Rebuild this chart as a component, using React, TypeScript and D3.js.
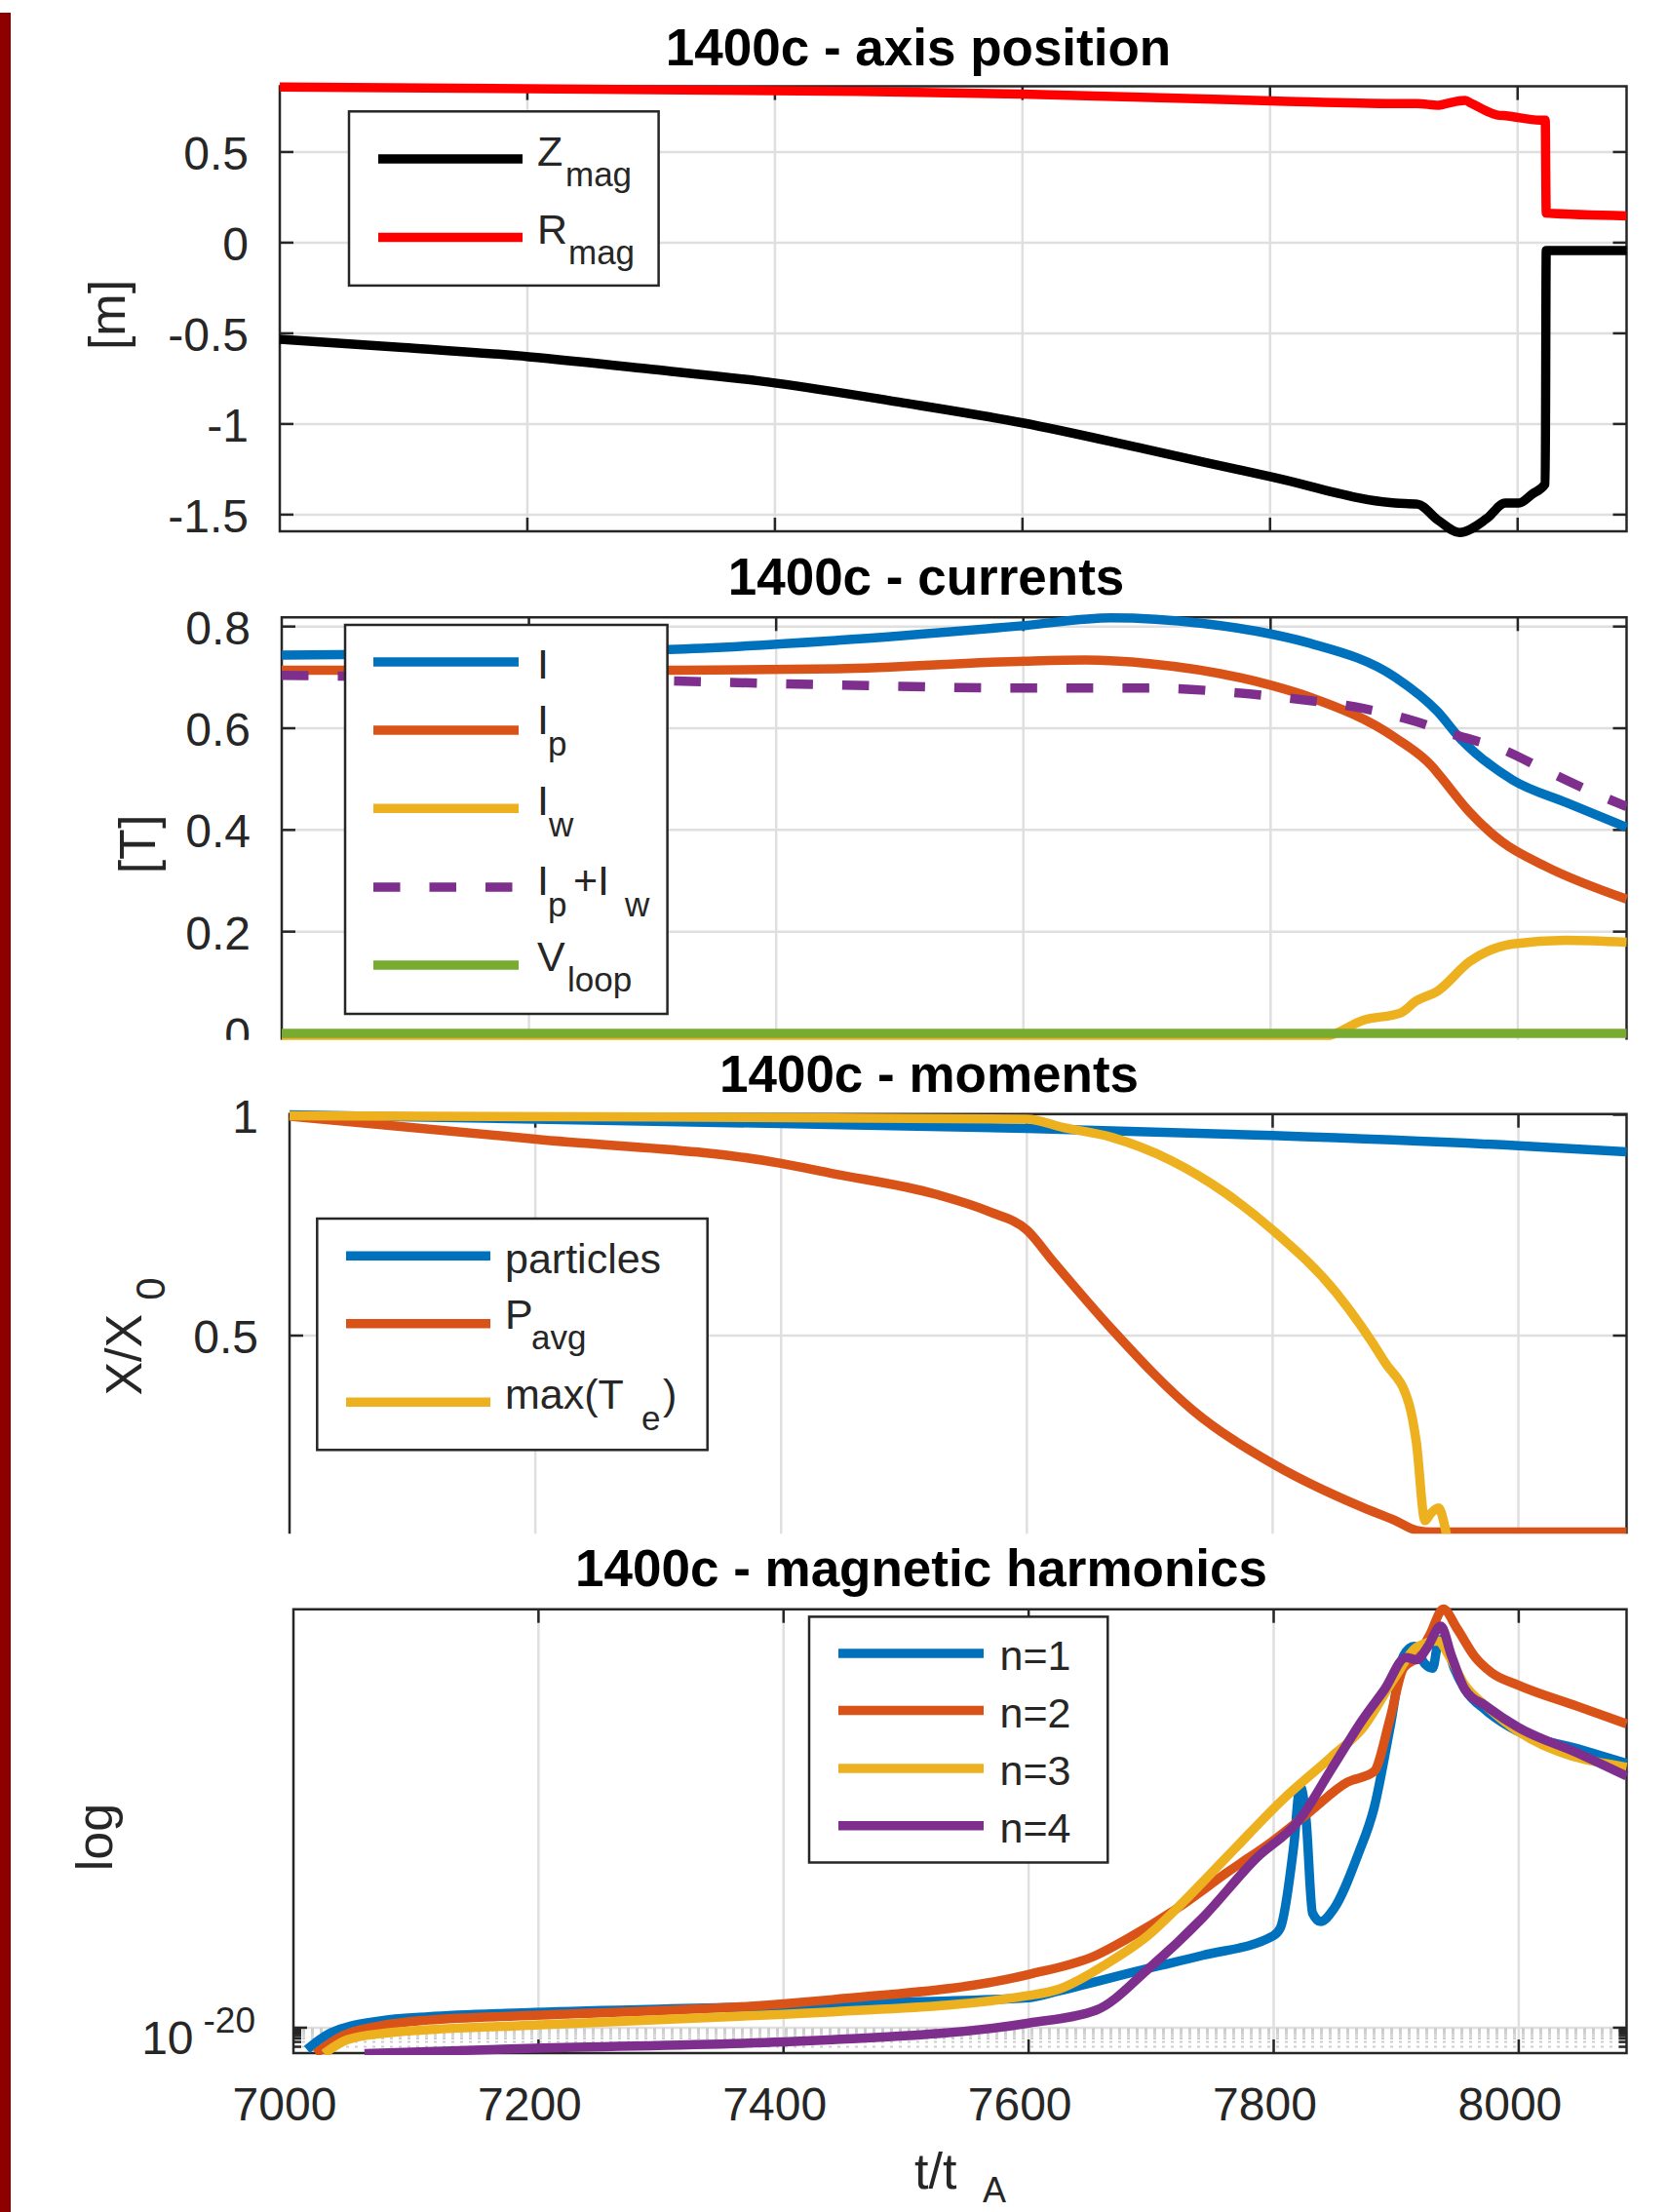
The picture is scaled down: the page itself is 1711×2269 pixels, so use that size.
import React from 'react'
import * as d3 from 'd3'

type Pt = [number, number]

const W = 1711
const H = 2269
const FONT = '"Liberation Sans", Arial, Helvetica, sans-serif'
const INK = '#262626'
const GRID = '#dfdfdf'
const LW = 9.5

const BLUE = '#0072bd'
const ORANGE = '#d95319'
const YELLOW = '#edb120'
const PURPLE = '#7e2f8e'
const GREEN = '#77ac30'

const T_DOMAIN: [number, number] = [7000, 8088]
const T_TICKS = [7000, 7200, 7400, 7600, 7800, 8000]
const RIGHT = 1668.5

// axis position [m]
const zMag: Pt[] = [
  [7000, -0.533], [7100, -0.578], [7201, -0.629], [7300, -0.698], [7400, -0.774],
  [7500, -0.879], [7600, -0.994], [7700, -1.14], [7801, -1.292], [7901, -1.436], [7919, -1.442],
  [7936, -1.532], [7953, -1.599], [7975, -1.522], [7990, -1.436], [8001, -1.436], [8011.5, -1.388],
  [8022.3, -1.33], [8023.1, -0.044], [8088, -0.044],
]
const rMag: Pt[] = [
  [7000, 0.859], [7443, 0.836], [7600, 0.82], [7801, 0.782], [7901, 0.767], [7919, 0.767],
  [7936, 0.758], [7942, 0.766], [7957.5, 0.784], [7963, 0.767], [7983, 0.705], [7992, 0.699],
  [8018, 0.676], [8022.3, 0.676], [8023.1, 0.163], [8088, 0.148],
]
const axisTicks = [-1.5, -1, -0.5, 0, 0.5]
const axisLabels = ['-1.5', '-1', '-0.5', '0', '0.5']

// currents [T]
const iTot: Pt[] = [
  [7000, 0.744], [7313, 0.755], [7450, 0.773], [7601, 0.802], [7671, 0.817], [7745, 0.806],
  [7801, 0.785], [7832, 0.767], [7901, 0.7], [7935, 0.633], [7953, 0.581], [7996, 0.498],
  [8039, 0.454], [8088, 0.405],
]
const iP: Pt[] = [
  [7000, 0.714], [7313, 0.714], [7450, 0.717], [7601, 0.732], [7650, 0.734], [7702, 0.727],
  [7801, 0.684], [7832, 0.661], [7901, 0.581], [7931, 0.524], [7937.5, 0.505], [7961, 0.435],
  [7987, 0.377], [8022, 0.329], [8088, 0.264],
]
const iW: Pt[] = [
  [7000, -0.005], [7700, -0.006], [7760, -0.009], [7832, -0.009], [7848, -0.004], [7875, 0.026],
  [7905, 0.04], [7918, 0.064], [7935, 0.083], [7961, 0.141], [7996, 0.176], [8039, 0.183], [8088, 0.179],
]
const iPW: Pt[] = [
  [7000, 0.704], [7313, 0.693], [7450, 0.685], [7601, 0.679], [7702, 0.679], [7771, 0.67],
  [7819, 0.658], [7875, 0.639], [7918, 0.613], [7948, 0.588], [7987, 0.559], [8022, 0.518],
  [8056, 0.479], [8088, 0.446],
]
const vLoop: Pt[] = [[7000, 0], [7500, 0], [8088, 0]]
const curTicks = [0, 0.2, 0.4, 0.6, 0.8]
const curLabels = ['0', '0.2', '0.4', '0.6', '0.8']

// moments X/X0
const particles: Pt[] = [
  [7000, 1.0], [7200, 0.99], [7400, 0.98], [7600, 0.969], [7800, 0.953], [8000, 0.93], [8088, 0.916],
]
const pAvg: Pt[] = [
  [7000, 0.997], [7200, 0.945], [7400, 0.89], [7440, 0.868], [7526, 0.82], [7570, 0.78],
  [7600, 0.739], [7621, 0.669], [7669, 0.515], [7735, 0.331], [7800, 0.21], [7874, 0.11],
  [7900, 0.081], [7917, 0.059], [7930, 0.055], [8088, 0.055],
]
const maxTe: Pt[] = [
  [7000, 0.998], [7300, 0.995], [7600, 0.99], [7630, 0.971], [7669, 0.949], [7717, 0.897],
  [7761, 0.824], [7800, 0.739], [7852, 0.596], [7891, 0.441], [7911, 0.345], [7917, 0.257],
  [7924, 0.081], [7928, 0.095], [7935, 0.11], [7939, 0.081], [7942, 0.04], [7944, 0.0],
]
const momTicks = [0.5, 1]
const momLabels = ['0.5', '1']

// magnetic harmonics, log10 of amplitude
const n1: Pt[] = [
  [7011, -20.8], [7030, -20.2], [7071, -19.75], [7110, -19.6], [7197, -19.44], [7400, -19.2],
  [7440, -19.13], [7600, -18.9], [7624, -18.66], [7699, -17.81], [7742, -17.35], [7799, -16.65],
  [7805.5, -16.34], [7816.4, -13.33], [7821.6, -11.16], [7826.5, -12.4], [7831.7, -15.8],
  [7838.2, -16.11], [7849, -15.65], [7869, -13.64], [7882, -11.94], [7895, -9.0], [7906, -6.37],
  [7914.6, -6.03], [7923.3, -6.67], [7929.8, -6.83], [7934.2, -5.9], [7938.5, -5.75],
  [7947.3, -6.83], [7956, -7.6], [7973.4, -8.38], [7999.6, -9.15], [8047.6, -9.77], [8088, -10.32],
]
const n2: Pt[] = [
  [7018, -20.95], [7040, -20.3], [7071, -19.93], [7110, -19.72], [7197, -19.55], [7400, -19.13],
  [7440, -18.97], [7600, -18.05], [7655, -17.35], [7681, -16.73], [7720.5, -15.65], [7764, -14.25],
  [7799, -13.17], [7829.5, -12.09], [7860, -11.01], [7881.8, -10.62], [7894.9, -8.69],
  [7905.8, -6.83], [7916.7, -6.44], [7927.6, -5.59], [7938.5, -4.66], [7949.4, -5.36],
  [7964.7, -6.44], [7977.8, -6.99], [7999.6, -7.45], [8047.6, -8.22], [8088, -8.87],
]
const n3: Pt[] = [
  [7025, -20.95], [7044, -20.44], [7075, -20.2], [7197, -19.9], [7400, -19.51], [7440, -19.42],
  [7600, -18.82], [7624.5, -18.59], [7663.7, -17.66], [7698.6, -16.58], [7720.5, -15.65],
  [7764, -13.64], [7807.7, -11.63], [7847, -10.08], [7873, -9.0], [7899.3, -7.14], [7916.7, -6.06],
  [7934.2, -5.83], [7942.9, -6.37], [7956, -7.45], [7973.4, -8.22], [7999.6, -9.15], [8088, -10.46],
]
const n4: Pt[] = [
  [7058, -20.95], [7197, -20.75], [7400, -20.52], [7440, -20.44], [7600, -19.83], [7655, -19.36],
  [7698.6, -17.81], [7742.3, -15.96], [7785.8, -13.79], [7820.7, -12.4], [7847, -10.54],
  [7873, -8.69], [7890.6, -7.6], [7908, -6.44], [7916.7, -6.52], [7925.5, -6.06], [7936.4, -5.29],
  [7945.1, -6.37], [7956, -7.6], [7973.4, -8.22], [7999.6, -9.0], [8047.6, -9.93], [8088, -10.78],
]
const harmTicks = [1e-20]
const harmMinor = [2e-21, 3e-21, 4e-21, 5e-21, 6e-21, 7e-21, 8e-21, 9e-21]

type AxesProps = {
  x: d3.ScaleLinear<number, number>
  y: (v: number) => number
  top: number
  bottom: number
  yTicks: number[]
  yMinor?: number[]
  bottomAxis?: boolean
}

function Axes({ x, y, top, bottom, yTicks, yMinor = [], bottomAxis = true }: AxesProps) {
  const [left, right] = x.range()
  const TL = 14
  const gx = T_TICKS.filter(t => t > T_DOMAIN[0])
  const frame = bottomAxis
    ? `M${left},${bottom}V${top}H${right}V${bottom}Z`
    : `M${left},${bottom}V${top}H${right}V${bottom}`
  return (
    <g>
      {gx.map(t => (
        <line key={`gx${t}`} x1={x(t)} x2={x(t)} y1={top} y2={bottom} stroke={GRID} strokeWidth={2.5} />
      ))}
      {yTicks.map(v => (
        <line key={`gy${v}`} x1={left} x2={right} y1={y(v)} y2={y(v)} stroke={GRID} strokeWidth={2.5} />
      ))}
      {yMinor.map(v => (
        <line key={`gm${v}`} x1={left} x2={right} y1={y(v)} y2={y(v)} stroke="#cdcdcd" strokeWidth={2} strokeDasharray="3 6" />
      ))}
      <g stroke={INK} strokeWidth={2.5} fill="none">
        <path d={frame} />
        {gx.map(t => <line key={`tt${t}`} x1={x(t)} x2={x(t)} y1={top} y2={top + TL} />)}
        {bottomAxis && gx.map(t => <line key={`tb${t}`} x1={x(t)} x2={x(t)} y1={bottom} y2={bottom - TL} />)}
        {yTicks.map(v => <line key={`tl${v}`} x1={left} x2={left + TL} y1={y(v)} y2={y(v)} />)}
        {yTicks.map(v => <line key={`tr${v}`} x1={right} x2={right - TL} y1={y(v)} y2={y(v)} />)}
        {yMinor.map(v => <line key={`ml${v}`} x1={left} x2={left + 8} y1={y(v)} y2={y(v)} />)}
        {yMinor.map(v => <line key={`mr${v}`} x1={right} x2={right - 8} y1={y(v)} y2={y(v)} />)}
      </g>
    </g>
  )
}

function YLabels({ x, y, ticks, labels }: { x: d3.ScaleLinear<number, number>; y: (v: number) => number; ticks: number[]; labels: string[] }) {
  const left = x.range()[0]
  return (
    <g fontSize={48} fill={INK} textAnchor="end">
      {ticks.map((v, i) => (
        <text key={v} x={left - 32} y={y(v) + 18}>{labels[i]}</text>
      ))}
    </g>
  )
}

function Series({ data, x, y, color, dash }: { data: Pt[]; x: (v: number) => number; y: (v: number) => number; color: string; dash?: string }) {
  const gen = d3.line<Pt>().x(d => x(d[0])).y(d => y(d[1])).curve(d3.curveMonotoneX)
  return (
    <path d={gen(data) || ''} fill="none" stroke={color} strokeWidth={LW} strokeLinejoin="round" strokeDasharray={dash} />
  )
}

function LegendLine({ x1, x2, y, color, dash }: { x1: number; x2: number; y: number; color: string; dash?: string }) {
  return <line x1={x1} x2={x2} y1={y} y2={y} stroke={color} strokeWidth={LW} strokeDasharray={dash} />
}

const DASH = '27.5 30'

export default function App() {
  // panel scales
  const x1 = d3.scaleLinear().domain(T_DOMAIN).range([287, RIGHT])
  const y1 = d3.scaleLinear().domain([-1.592, 0.862]).range([545, 88.6])
  const x2 = d3.scaleLinear().domain(T_DOMAIN).range([289, RIGHT])
  const y2 = d3.scaleLinear().domain([-0.0125, 0.818]).range([1066.5, 633.3])
  const x3 = d3.scaleLinear().domain(T_DOMAIN).range([297, RIGHT])
  const y3 = d3.scaleLinear().domain([0.0512, 1.0018]).range([1573.3, 1142.7])
  const x4 = d3.scaleLinear().domain(T_DOMAIN).range([301, RIGHT])
  const y4 = d3.scaleLog().domain([10 ** -20.93, 10 ** -4.67]).range([2106, 1650.7])
  const y4e = (e: number) => y4(10 ** e)

  return (
    <div style={{ position: 'absolute', left: 0, top: 0, width: W, height: H, background: '#fff' }}>
      <svg width={W} height={H} viewBox={`0 0 ${W} ${H}`} style={{ display: 'block', fontFamily: FONT }}>
        <defs>
          <clipPath id="clip2"><rect x={0} y={0} width={W} height={1066.7} /></clipPath>
          <clipPath id="clip3"><rect x={0} y={1100} width={W} height={473.3} /></clipPath>
          <clipPath id="clip4"><rect x={0} y={1600} width={W} height={508} /></clipPath>
        </defs>
        <rect x={0} y={0} width={W} height={H} fill="#fff" />
        <rect x={0} y={13} width={11} height={H - 13} fill="#8e0000" />

        {/* panel 1: axis position */}
        <text x={942} y={67} textAnchor="middle" fontSize={53} fontWeight="bold" fill="#000">1400c - axis position</text>
        <Axes x={x1} y={y1} top={88.6} bottom={545} yTicks={axisTicks} />
        <YLabels x={x1} y={y1} ticks={axisTicks} labels={axisLabels} />
        <text transform="translate(128,323) rotate(-90)" textAnchor="middle" fontSize={52} fill={INK}>[m]</text>
        <Series data={zMag} x={x1} y={y1} color="#000000" />
        <Series data={rMag} x={x1} y={y1} color="#ff0000" />
        <rect x={358} y={114.3} width={317.6} height={178.6} fill="#fff" stroke={INK} strokeWidth={2.5} />
        <LegendLine x1={388} x2={536} y={163} color="#000000" />
        <LegendLine x1={388} x2={536} y={243.6} color="#ff0000" />
        <g fontSize={43} fill={INK}>
          <text x={551} y={170}>Z<tspan x={580} y={191} fontSize={35}>mag</tspan></text>
          <text x={551} y={250}>R<tspan x={583} y={271} fontSize={35}>mag</tspan></text>
        </g>

        {/* panel 2: currents */}
        <text x={950} y={610} textAnchor="middle" fontSize={53} fontWeight="bold" fill="#000">1400c - currents</text>
        <g clipPath="url(#clip2)">
          <Axes x={x2} y={y2} top={633.3} bottom={1066.7} yTicks={curTicks} bottomAxis={false} />
          <YLabels x={x2} y={y2} ticks={curTicks} labels={curLabels} />
          <Series data={iTot} x={x2} y={y2} color={BLUE} />
          <Series data={iP} x={x2} y={y2} color={ORANGE} />
          <Series data={iW} x={x2} y={y2} color={YELLOW} />
          <Series data={iPW} x={x2} y={y2} color={PURPLE} dash={DASH} />
          <Series data={vLoop} x={x2} y={y2} color={GREEN} />
        </g>
        <text transform="translate(159,866) rotate(-90)" textAnchor="middle" fontSize={52} fill={INK}>[T]</text>
        <rect x={354} y={641} width={330.6} height={399} fill="#fff" stroke={INK} strokeWidth={2.5} />
        <LegendLine x1={383} x2={532} y={679} color={BLUE} />
        <LegendLine x1={383} x2={532} y={749} color={ORANGE} />
        <LegendLine x1={383} x2={532} y={829.3} color={YELLOW} />
        <LegendLine x1={383} x2={532} y={910} color={PURPLE} dash={DASH} />
        <LegendLine x1={383} x2={532} y={990} color={GREEN} />
        <g fontSize={43} fill={INK}>
          <text x={551} y={696}>I</text>
          <text x={551} y={753}>I<tspan x={562} y={775} fontSize={35}>p</tspan></text>
          <text x={551} y={836}>I<tspan x={563} y={858} fontSize={35}>w</tspan></text>
          <text x={551} y={918}>I<tspan x={562} y={940} fontSize={35}>p</tspan><tspan x={588} y={918}>+I</tspan><tspan x={641} y={940} fontSize={35}>w</tspan></text>
          <text x={551} y={996}>V<tspan x={582} y={1017} fontSize={35}>loop</tspan></text>
        </g>

        {/* panel 3: moments */}
        <text x={953} y={1120} textAnchor="middle" fontSize={53} fontWeight="bold" fill="#000">1400c - moments</text>
        <Axes x={x3} y={y3} top={1142.7} bottom={1573.3} yTicks={momTicks} bottomAxis={false} />
        <YLabels x={x3} y={y3} ticks={momTicks} labels={momLabels} />
        <text transform="translate(145,1371) rotate(-90)" textAnchor="middle" fontSize={52} fill={INK}>
          X/X<tspan dx={14} dy={24} fontSize={42}>0</tspan>
        </text>
        <g clipPath="url(#clip3)">
          <Series data={particles} x={x3} y={y3} color={BLUE} />
          <Series data={pAvg} x={x3} y={y3} color={ORANGE} />
          <Series data={maxTe} x={x3} y={y3} color={YELLOW} />
        </g>
        <rect x={325.3} y={1250} width={400.4} height={237.3} fill="#fff" stroke={INK} strokeWidth={2.5} />
        <LegendLine x1={355} x2={503} y={1288.3} color={BLUE} />
        <LegendLine x1={355} x2={503} y={1357.7} color={ORANGE} />
        <LegendLine x1={355} x2={503} y={1438.3} color={YELLOW} />
        <g fontSize={43} fill={INK}>
          <text x={518} y={1306}>particles</text>
          <text x={518} y={1362.7}>P<tspan x={545} y={1384.3} fontSize={35}>avg</tspan></text>
          <text x={518} y={1445}>max(T<tspan x={658} y={1466.7} fontSize={35}>e</tspan><tspan x={680} y={1445}>)</tspan></text>
        </g>

        {/* panel 4: magnetic harmonics */}
        <text x={945} y={1627} textAnchor="middle" fontSize={53} fontWeight="bold" fill="#000">1400c - magnetic harmonics</text>
        <Axes x={x4} y={y4} top={1650.7} bottom={2106} yTicks={harmTicks} yMinor={harmMinor} />
        <text x={262} y={y4(1e-20) + 27} textAnchor="end" fontSize={48} fill={INK}>
          10<tspan dx={10} dy={-22} fontSize={37}>-20</tspan>
        </text>
        <g fontSize={48} fill={INK} textAnchor="middle">
          {T_TICKS.map(t => (
            <text key={t} x={x4(t) - 9} y={2175}>{t}</text>
          ))}
        </g>
        <text x={938} y={2245} fontSize={52} fill={INK}>t/t<tspan x={1008} y={2259} fontSize={36}>A</tspan></text>
        <text transform="translate(115,1884.5) rotate(-90)" textAnchor="middle" fontSize={52} fill={INK}>log</text>
        <g clipPath="url(#clip4)">
          <Series data={n1} x={x4} y={y4e} color={BLUE} />
          <Series data={n2} x={x4} y={y4e} color={ORANGE} />
          <Series data={n3} x={x4} y={y4e} color={YELLOW} />
          <Series data={n4} x={x4} y={y4e} color={PURPLE} />
        </g>
        <rect x={830} y={1658.4} width={306.3} height={252.1} fill="#fff" stroke={INK} strokeWidth={2.5} />
        <LegendLine x1={860} x2={1009} y={1696} color={BLUE} />
        <LegendLine x1={860} x2={1009} y={1754.6} color={ORANGE} />
        <LegendLine x1={860} x2={1009} y={1814} color={YELLOW} />
        <LegendLine x1={860} x2={1009} y={1872.8} color={PURPLE} />
        <g fontSize={43} fill={INK}>
          <text x={1025.5} y={1713}>n=1</text>
          <text x={1025.5} y={1771.6}>n=2</text>
          <text x={1025.5} y={1831}>n=3</text>
          <text x={1025.5} y={1889.8}>n=4</text>
        </g>
      </svg>
    </div>
  )
}
